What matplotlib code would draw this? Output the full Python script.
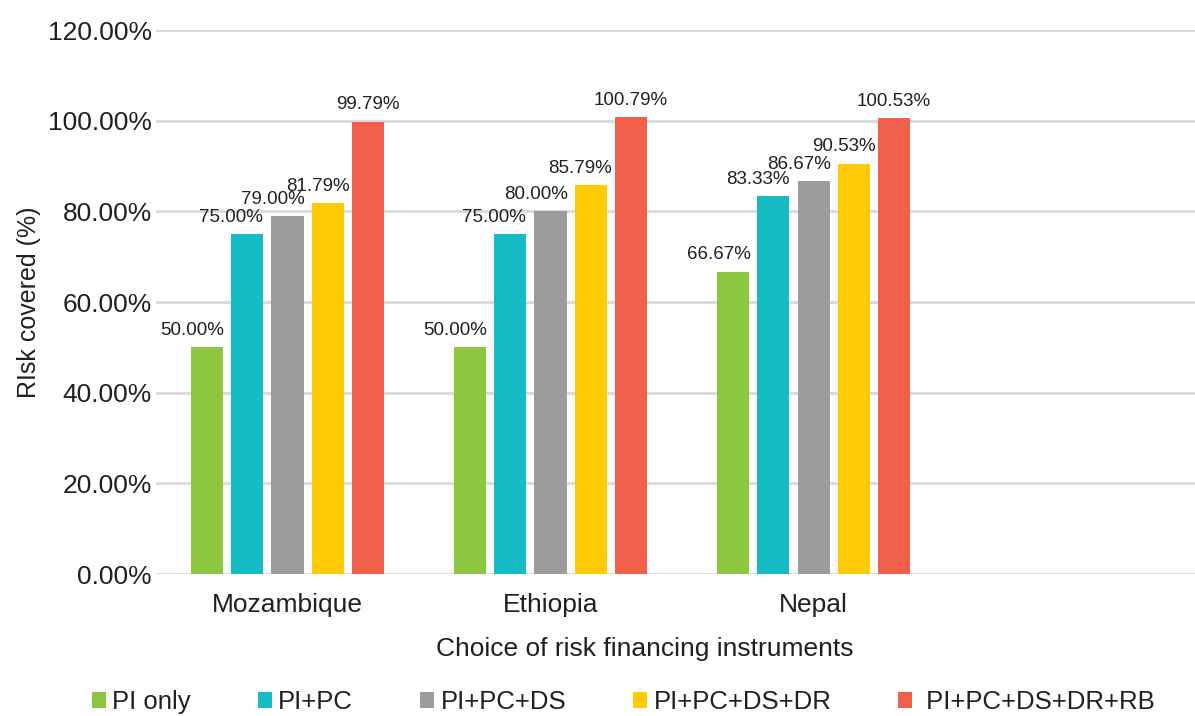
import matplotlib.pyplot as plt
import numpy as np

plt.rcParams['font.family'] = ['Liberation Sans', 'DejaVu Sans']

countries = ["Mozambique", "Ethiopia", "Nepal"]
instruments = ["PI only", "PI+PC", "PI+PC+DS", "PI+PC+DS+DR", " PI+PC+DS+DR+RB"]
colors = ["#8DC63F", "#17BBC4", "#9A9C9E", "#FFCB05", "#F0604A"]

pi_only = [50.00, 50.00, 66.67]
pi_pc = [75.00, 75.00, 83.33]
pi_pc_ds = [79.00, 80.00, 86.67]
pi_pc_ds_dr = [81.79, 85.79, 90.53]
pi_pc_ds_dr_rb = [99.79, 100.79, 100.53]

series = [pi_only, pi_pc, pi_pc_ds, pi_pc_ds_dr, pi_pc_ds_dr_rb]
yticks = [0, 20, 40, 60, 80, 100, 120]

text_color = "#231F20"
grid_color = "#D9D9D9"

fig = plt.figure(figsize=(11.95, 7.16), dpi=100)
ax = fig.add_axes([0.1305, 0.1983, 0.8695, 0.7597])

x = np.arange(len(countries))
width = 0.122
step = 0.153
# horizontal nudge (points) of each series' value labels
label_dx = [1, 0, 1, 4, 0]

for i, (vals, col) in enumerate(zip(series, colors)):
    pos = x + (i - 2) * step
    ax.bar(pos, vals, width=width, color=col, label=instruments[i], zorder=3)
    for p, v in zip(pos, vals):
        if i == 4:
            # last series sits centred over its bar
            ax.annotate(f"{v:.2f}%", (p, v), xytext=(0, 6), textcoords="offset points",
                        ha="center", va="bottom", fontsize=13.5, color=text_color)
        else:
            ax.annotate(f"{v:.2f}%", (p + width / 2, v), xytext=(label_dx[i], 6),
                        textcoords="offset points", ha="right", va="bottom",
                        fontsize=13.5, color=text_color)

ax.set_xlim(-0.5, 3.45)
ax.set_ylim(0, 120)
ax.set_yticks(yticks)
ax.set_yticklabels([f"{t:.2f}%" for t in yticks])
ax.set_xticks(x)
ax.set_xticklabels(countries)
ax.tick_params(axis="both", length=0, labelsize=19, colors=text_color)
ax.tick_params(axis="y", pad=3)
ax.tick_params(axis="x", pad=14)

ax.grid(axis="y", color=grid_color, linewidth=2, zorder=0)
for s in ax.spines.values():
    s.set_visible(False)

ax.set_ylabel("RIsk covered (%)", fontsize=18, color=text_color, labelpad=5)
ax.set_xlabel("Choice of risk financing instruments", fontsize=19, color=text_color)
ax.xaxis.set_label_coords(0.47, -0.115)

fig.legend(loc="center", bbox_to_anchor=(623 / 1195, 1 - 702 / 716), ncol=5, frameon=False,
           fontsize=18.5, handlelength=0.55, handleheight=0.55, handletextpad=0.25,
           columnspacing=2.6, labelcolor=text_color)

fig.savefig("out.png", dpi=100)
